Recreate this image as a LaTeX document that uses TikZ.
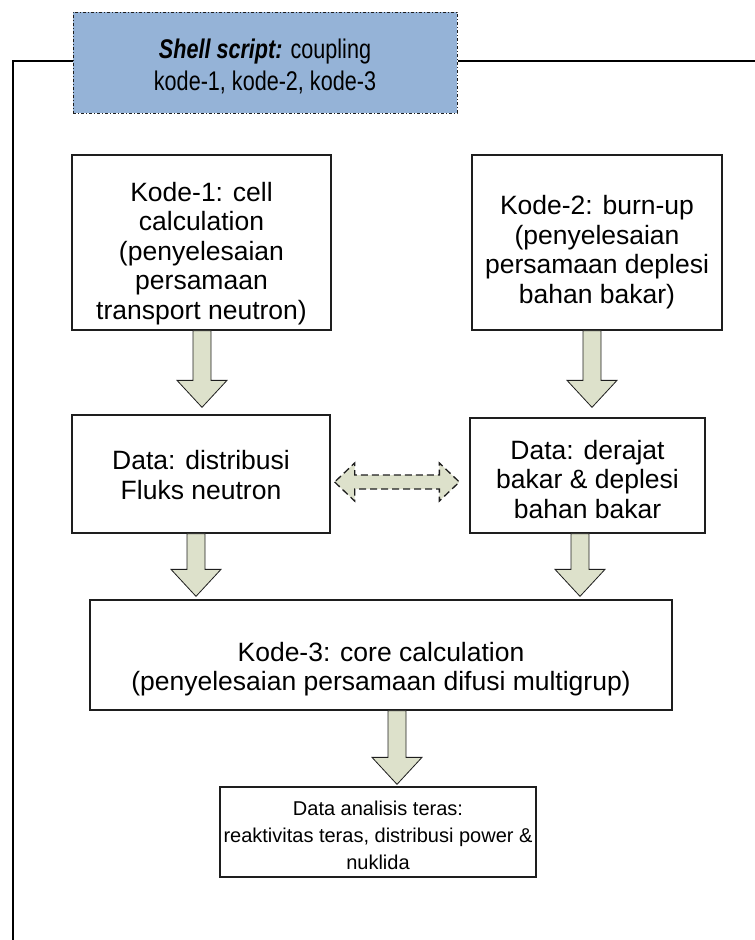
\documentclass[tikz,border=0pt]{standalone}
\usepackage{fontspec}
\setmainfont{Liberation Sans}
\newfontfamily\narrowfont[FakeStretch=0.8]{Liberation Sans}
\usetikzlibrary{calc}
\definecolor{hdrfill}{RGB}{149,179,215}
\definecolor{arrfill}{RGB}{221,225,203}
\definecolor{edge}{RGB}{30,30,30}
\tikzset{
  box/.style={draw=edge, line width=1.3pt, fill=white, inner sep=0pt},
  boxtext/.style={align=center, inner sep=0pt, font=\fontsize{26.5}{29.5}\selectfont},
  hdrbox/.style={draw=edge, line width=1pt, dash dot, fill=hdrfill, inner sep=0pt},
  hdrtext/.style={align=center, inner sep=0pt, font=\narrowfont\fontsize{27}{32}\selectfont},
  barrow/.style={draw=edge, line width=0.8pt, fill=arrfill, line join=miter},
  frame/.style={draw=black, line width=1.8pt},
}
% vertical block arrow: #1 start point, #2 tip point
\newcommand{\dnarrow}[2]{%
  \path[barrow] let \p1=#1, \p2=#2 in
    (\x1-9pt,\y1) -- (\x1-9pt,\y2+27pt) -- (\x1-25pt,\y2+27pt) -- (\x1,\y2)
    -- (\x1+25pt,\y2+27pt) -- (\x1+9pt,\y2+27pt) -- (\x1+9pt,\y1) -- cycle;}
\begin{document}
\begin{tikzpicture}[x=1pt,y=-1pt]
\useasboundingbox (0,0) rectangle (755,940);

% header and outer frame
\node[hdrbox, minimum width=384pt, minimum height=101pt] (hdr) at (265,62.5) {};
\node[hdrtext] (hdrtxt) at ($(hdr.center)+(0,4)$)
  {\textbf{\textit{Shell script:}} coupling\\kode-1, kode-2, kode-3};
\coordinate (ftl) at (13,61);
\coordinate (fbl) at (13,940);
\coordinate (ftr) at (755,61);
\draw[frame] (hdr.west |- ftl) -- (ftl) -- (fbl);
\draw[frame] (hdr.east |- ftr) -- (ftr);

% code boxes
\node[box, minimum width=259pt, minimum height=175pt] (k1) at (201.5,242.5) {};
\node[boxtext] (k1t) at ($(k1.center)+(0,11)$)
  {Kode-1: cell\\calculation\\(penyelesaian\\persamaan\\transport neutron)};
\node[box, minimum width=250pt, minimum height=175pt] (k2) at (597,242.5) {};
\node[boxtext] (k2t) at ($(k2.center)+(0,9.5)$)
  {Kode-2: burn-up\\(penyelesaian\\persamaan deplesi\\bahan bakar)};

% data boxes
\node[box, minimum width=258pt, minimum height=118pt] (d1) at (201,474) {};
\node[boxtext] (d1t) at ($(d1.center)+(0,1)$) {Data: distribusi\\Fluks neutron};
\node[box, minimum width=235pt, minimum height=115pt] (d2) at (587.5,475.5) {};
\node[boxtext] (d2t) at ($(d2.center)+(0,4)$) {Data: derajat\\bakar \& deplesi\\bahan bakar};

% core calculation
\node[box, minimum width=582pt, minimum height=110pt] (k3) at (381,655) {};
\node[boxtext] (k3t) at ($(k3.center)+(0,14)$)
  {Kode-3: core calculation\\(penyelesaian persamaan difusi multigrup)};

% results
\node[box, minimum width=316pt, minimum height=90pt] (res) at (378,832) {};
\node[boxtext, font=\fontsize{20}{27}\selectfont] (rest) at ($(res.center)+(0,3)$)
  {Data analisis teras:\\reaktivitas teras, distribusi power \&\\nuklida};

% flow arrows
\dnarrow{($(k1.south)+(0.5,0)$)}{($(d1.north)+(0,-7)$)}
\dnarrow{($(k2.south)+(-5,0)$)}{($(d2.north)+(0,-10)$)}
\dnarrow{($(d1.south)+(-5,0)$)}{($(k3.north)+(0,-3)$)}
\dnarrow{($(d2.south)+(-7.5,0)$)}{($(k3.north)+(0,-3)$)}
\dnarrow{($(k3.south)+(16,0)$)}{($(res.north)+(0,-2)$)}

% data exchange between the two data sets
\coordinate (xl) at ($(d1.east)+(4,8)$);
\coordinate (xr) at ($(d2.west)+(-10,6.5)$);
\path[barrow, dash pattern=on 7pt off 4pt, line width=1.3pt] let \p1=(xl), \p2=(xr) in
  (\x1,\y1) -- (\x1+20pt,\y1-19pt) -- (\x1+20pt,\y1-7pt) -- (\x2-20pt,\y1-7pt)
  -- (\x2-20pt,\y1-19pt) -- (\x2,\y1) -- (\x2-20pt,\y1+19pt) -- (\x2-20pt,\y1+7pt)
  -- (\x1+20pt,\y1+7pt) -- (\x1+20pt,\y1+19pt) -- cycle;
\end{tikzpicture}
\end{document}
